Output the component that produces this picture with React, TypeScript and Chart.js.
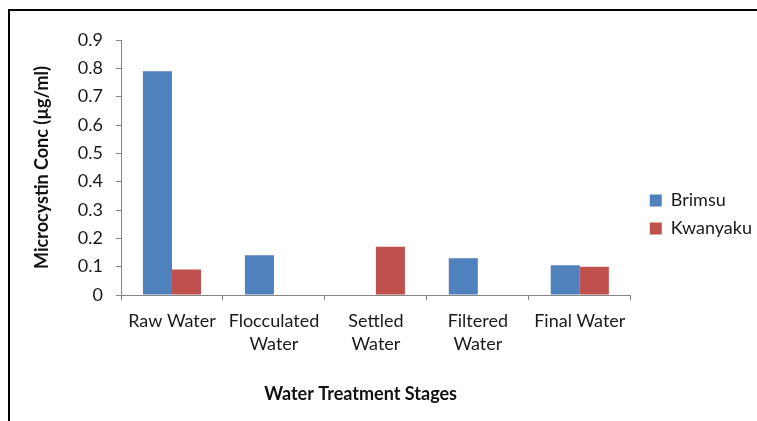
import React, { useEffect, useRef } from "react";
import { Chart, registerables } from "chart.js";

Chart.register(...registerables);

const categories: (string | string[])[] = [
  "Raw Water",
  ["Flocculated", "Water"],
  ["Settled", "Water"],
  ["Filtered", "Water"],
  "Final Water",
];
const brimsu = [0.79, 0.14, 0, 0.13, 0.105];
const kwanyaku = [0.09, 0, 0.17, 0, 0.1];
const seriesNames = ["Brimsu", "Kwanyaku"];
const yTitle = "Microcystin Conc (µg/ml)";
const xTitle = "Water Treatment Stages";

const FONT = "Lato, 'Open Sans', sans-serif";
const BOTTOM_PAD = 12;

const legendShift = {
  id: "legendShift",
  afterLayout(chart: any) {
    const lg = chart.legend;
    if (lg) {
      lg.left += 9;
      lg.right += 9;
      lg.top -= 10;
      lg.bottom -= 10;
    }
  },
};

export default function App() {
  const ref = useRef<HTMLCanvasElement | null>(null);
  useEffect(() => {
    if (!ref.current) return;
    const chart = new Chart(ref.current, {
      type: "bar",
      data: {
        labels: categories,
        datasets: [
          {
            label: seriesNames[0],
            data: brimsu,
            backgroundColor: "#4F81BD",
            borderWidth: 0,
            barPercentage: 1,
            categoryPercentage: 0.57,
          },
          {
            label: seriesNames[1],
            data: kwanyaku,
            backgroundColor: "#C0504D",
            borderWidth: 0,
            barPercentage: 1,
            categoryPercentage: 0.57,
          },
        ],
      },
      plugins: [legendShift],
      options: {
        responsive: false,
        animation: false,
        devicePixelRatio: 1,
        layout: { padding: { left: 28, top: 40, right: 4, bottom: BOTTOM_PAD } },
        plugins: {
          tooltip: { enabled: false },
          legend: {
            position: "right",
            align: "center",
            labels: {
              boxWidth: 12,
              boxHeight: 12,
              padding: 10,
              color: "#1a1a1a",
              font: { family: FONT, size: 18 },
            },
          },
        },
        scales: {
          x: {
            grid: {
              display: true,
              drawOnChartArea: false,
              drawTicks: true,
              tickLength: 5,
              color: "#868686",
              offset: true,
            },
            border: { display: true, color: "#868686" },
            ticks: {
              color: "#1a1a1a",
              padding: 10,
              maxRotation: 0,
              autoSkip: false,
              font: { family: FONT, size: 18, lineHeight: 1.25 },
            },
            title: {
              display: true,
              text: xTitle + "       ",
              color: "#111",
              font: { family: FONT, size: 18, weight: "bold" },
              padding: { top: 4, bottom: 4 },
            },
            afterFit: (scale: any) => {
              scale.height = 421 - BOTTOM_PAD - 295;
            },
          },
          y: {
            min: 0,
            max: 0.9,
            grid: {
              display: true,
              drawOnChartArea: false,
              drawTicks: true,
              tickLength: 5,
              color: "#868686",
            },
            border: { display: true, color: "#868686" },
            ticks: {
              stepSize: 0.1,
              color: "#1a1a1a",
              padding: 13,
              font: { family: FONT, size: 18 },
              callback: (v: any) => (Number(v) === 0 ? "0" : Number(v).toFixed(1)),
            },
            title: {
              display: true,
              text: yTitle,
              color: "#111",
              font: { family: FONT, size: 18, weight: "bold" },
              padding: { top: 3, bottom: 4 },
            },
            afterFit: (scale: any) => {
              scale.width = 121 - 28;
            },
          },
        },
      },
    });
    return () => chart.destroy();
  }, []);

  return (
    <div
      style={{
        position: "fixed",
        left: 0,
        top: 0,
        width: 757,
        height: 421,
        overflow: "hidden",
        background: "#fff",
      }}
    >
      <div
        style={{ position: "absolute", left: 8, top: 9, width: 749, height: 2, background: "#000" }}
      />
      <div
        style={{ position: "absolute", left: 8, top: 9, width: 2, height: 412, background: "#000" }}
      />
      <canvas
        ref={ref}
        width={757}
        height={421}
        style={{ position: "absolute", left: 0, top: 0, width: 757, height: 421 }}
      />
    </div>
  );
}
